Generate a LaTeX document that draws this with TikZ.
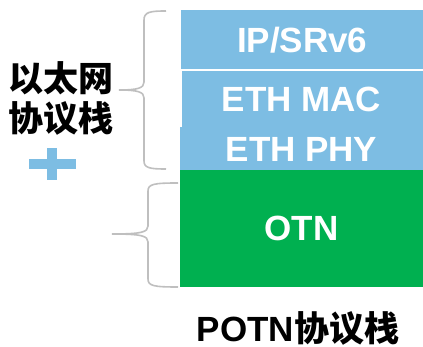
\documentclass[tikz,border=0pt]{standalone}
\usepackage{fontspec}
\setmainfont{Liberation Sans}
\newfontfamily\cjk{Noto Sans CJK SC}
\definecolor{lblue}{HTML}{7DBDE3}
\definecolor{lgreen}{HTML}{00B050}
\definecolor{bracegray}{HTML}{BFBFBF}
\tikzset{
  layerbox/.style={draw=none, anchor=north west, inner sep=0pt, text=white, font=\fontsize{35}{35}\selectfont\bfseries},
  bracepath/.style={draw=bracegray, line width=1.6pt},
  bigtext/.style={inner sep=0pt, text=black, font=\fontsize{35}{40}\selectfont\bfseries\cjk}
}
\begin{document}
\begin{tikzpicture}[x=1pt,y=-1pt]
\useasboundingbox (0,0) rectangle (423,347);
% layer boxes
\node[layerbox, fill=lblue, minimum width=242pt, minimum height=59pt] (ip) at (181,10) {};
\node[text=white, font=\fontsize{35}{35}\selectfont\bfseries] at (ip.center) {IP/SRv6};
\node[layerbox, fill=lblue, minimum width=241pt, minimum height=57pt] (mac) at (182,71) {};
\node[layerbox, fill=lblue, minimum width=243pt, minimum height=43pt] (phy) at (180,127) {};
\node[text=white, font=\fontsize{35}{35}\selectfont\bfseries] (mact) at (301.5,99) {ETH MAC};
\node[text=white, font=\fontsize{35}{35}\selectfont\bfseries] (phyt) at (301.5,149) {ETH PHY};
\node[layerbox, fill=lgreen, minimum width=243pt, minimum height=117pt] (otn) at (180,170) {};
\node[text=white, font=\fontsize{35}{35}\selectfont\bfseries] at (otn.center) {OTN};
% braces
\draw[bracepath] (166,11) .. controls (150,11) and (144,12) .. (144,20) -- (144,82)
  .. controls (144,88) and (138,90) .. (119,90)
  .. controls (138,90) and (144,92) .. (144,98) -- (144,161)
  .. controls (144,168) and (150,169) .. (166,169);
\draw[bracepath] (178,183) .. controls (154,183) and (148,184) .. (148,191) -- (148,226)
  .. controls (148,232) and (142,234) .. (112,234)
  .. controls (142,234) and (148,236) .. (148,242) -- (148,279)
  .. controls (148,286) and (154,287) .. (178,287);
% left label
\node[bigtext, align=center] (eth) at (61,98) {以太网\\协议栈};
% plus
\fill[lblue] (29,159) rectangle (76,169);
\fill[lblue] (47,148) rectangle (57,180);
% bottom label
\node[font=\fontsize{35}{35}\selectfont\bfseries] (potn) at (298,328) {POTN{\cjk 协议栈}};
\end{tikzpicture}
\end{document}
